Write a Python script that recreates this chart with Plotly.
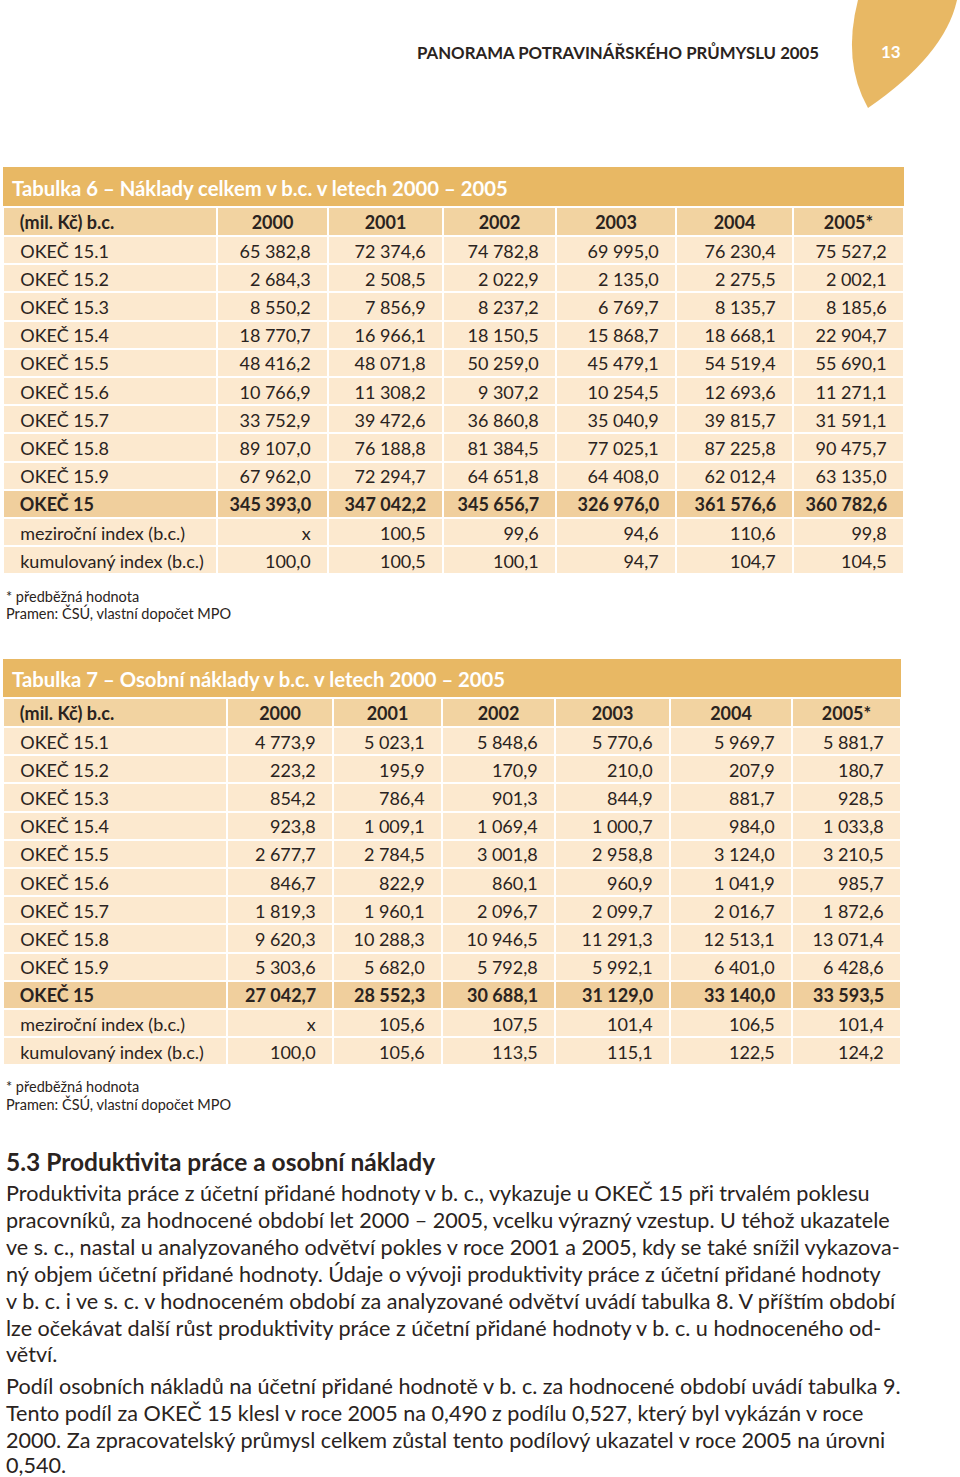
import plotly.graph_objects as go

W, H = 960, 1477

# ---------------- data ----------------
row_labels = ["OKEČ 15.1", "OKEČ 15.2", "OKEČ 15.3", "OKEČ 15.4", "OKEČ 15.5",
              "OKEČ 15.6", "OKEČ 15.7", "OKEČ 15.8", "OKEČ 15.9", "OKEČ 15",
              "meziroční index (b.c.)", "kumulovaný index (b.c.)"]
year_labels = ["2000", "2001", "2002", "2003", "2004", "2005*"]

t6_2000 = [65382.8, 2684.3, 8550.2, 18770.7, 48416.2, 10766.9, 33752.9, 89107.0, 67962.0, 345393.0, None, 100.0]
t6_2001 = [72374.6, 2508.5, 7856.9, 16966.1, 48071.8, 11308.2, 39472.6, 76188.8, 72294.7, 347042.2, 100.5, 100.5]
t6_2002 = [74782.8, 2022.9, 8237.2, 18150.5, 50259.0, 9307.2, 36860.8, 81384.5, 64651.8, 345656.7, 99.6, 100.1]
t6_2003 = [69995.0, 2135.0, 6769.7, 15868.7, 45479.1, 10254.5, 35040.9, 77025.1, 64408.0, 326976.0, 94.6, 94.7]
t6_2004 = [76230.4, 2275.5, 8135.7, 18668.1, 54519.4, 12693.6, 39815.7, 87225.8, 62012.4, 361576.6, 110.6, 104.7]
t6_2005 = [75527.2, 2002.1, 8185.6, 22904.7, 55690.1, 11271.1, 31591.1, 90475.7, 63135.0, 360782.6, 99.8, 104.5]

t7_2000 = [4773.9, 223.2, 854.2, 923.8, 2677.7, 846.7, 1819.3, 9620.3, 5303.6, 27042.7, None, 100.0]
t7_2001 = [5023.1, 195.9, 786.4, 1009.1, 2784.5, 822.9, 1960.1, 10288.3, 5682.0, 28552.3, 105.6, 105.6]
t7_2002 = [5848.6, 170.9, 901.3, 1069.4, 3001.8, 860.1, 2096.7, 10946.5, 5792.8, 30688.1, 107.5, 113.5]
t7_2003 = [5770.6, 210.0, 844.9, 1000.7, 2958.8, 960.9, 2099.7, 11291.3, 5992.1, 31129.0, 101.4, 115.1]
t7_2004 = [5969.7, 207.9, 881.7, 984.0, 3124.0, 1041.9, 2016.7, 12513.1, 6401.0, 33140.0, 106.5, 122.5]
t7_2005 = [5881.7, 180.7, 928.5, 1033.8, 3210.5, 985.7, 1872.6, 13071.4, 6428.6, 33593.5, 101.4, 124.2]

t6_title = "Tabulka 6 – Náklady celkem v b.c. v letech 2000 – 2005"
t7_title = "Tabulka 7 – Osobní náklady v b.c. v letech 2000 – 2005"
unit_label = "(mil. Kč) b.c."
footnote_1 = "* předběžná hodnota"
footnote_2 = "Pramen: ČSÚ, vlastní dopočet MPO"
running_head = "PANORAMA POTRAVINÁŘSKÉHO PRŮMYSLU 2005"
page_number = "13"
section_heading = "5.3 Produktivita práce a osobní náklady"
body_lines = [
    "Produktivita práce z účetní přidané hodnoty v b. c., vykazuje u OKEČ 15 při trvalém poklesu",
    "pracovníků, za hodnocené období let 2000 – 2005, vcelku výrazný vzestup. U téhož ukazatele",
    "ve s. c., nastal u analyzovaného odvětví pokles v roce 2001 a 2005, kdy se také snížil vykazova-",
    "ný objem účetní přidané hodnoty. Údaje o vývoji produktivity práce z účetní přidané hodnoty",
    "v b. c. i ve s. c. v hodnoceném období za analyzované odvětví uvádí tabulka 8. V příštím období",
    "lze očekávat další růst produktivity práce z účetní přidané hodnoty v b. c. u hodnoceného od-",
    "větví.",
    "Podíl osobních nákladů na účetní přidané hodnotě v b. c. za hodnocené období uvádí tabulka 9.",
    "Tento podíl za OKEČ 15 klesl v roce 2005 na 0,490 z podílu 0,527, který byl vykázán v roce",
    "2000. Za zpracovatelský průmysl celkem zůstal tento podílový ukazatel v roce 2005 na úrovni",
    "0,540.",
]

# ---------------- style ----------------
FONT = "Lato"
TXT = "#2a2320"
GOLD = "#e8b864"
HEAD = "#f2d3a1"
TOTAL = "#f0cf9d"
ROW = "#fce9cf"
TOTAL_IDX = 9
NB = "\u00a0"
HEAD_H = 29
ROW_H = 28.2


def fmt(v):
    if v is None:
        return "x"
    s = f"{v:,.1f}"
    return s.replace(",", NB).replace(".", ",")


def lab(s):
    return NB * 2 + s.replace(" ", NB)


def build_tables(cols, colwidths, x0, x1, ytop):
    label_cells = [lab(s) for s in row_labels]
    value_cols = [[fmt(v) + NB * 2 for v in col] for col in cols]
    line = dict(color="white", width=2)
    font_reg = dict(family=FONT, size=18, color=TXT)
    font_bold = dict(family=FONT, size=18, color=TXT, weight=700)
    xd = [x0 / W, x1 / W]

    def dom(top, bot):
        return dict(x=xd, y=[max(0, 1 - bot / H), 1 - top / H])

    # part A: column header + OKEČ rows
    top_a = ytop
    bot_a = top_a + HEAD_H + TOTAL_IDX * ROW_H
    ta = go.Table(
        domain=dom(top_a, bot_a + 2),
        columnwidth=colwidths,
        header=dict(values=[lab(unit_label)] + year_labels, fill_color=HEAD, line=line,
                    align=["left"] + ["center"] * 6, font=font_bold, height=HEAD_H),
        cells=dict(values=[label_cells[:TOTAL_IDX]] + [c[:TOTAL_IDX] for c in value_cols],
                   fill_color=ROW, line=line, align=["left"] + ["right"] * 6,
                   font=font_reg, height=ROW_H),
    )
    # part B: total row (bold) + index rows
    top_b = bot_a
    bot_b = top_b + ROW_H * (len(row_labels) - TOTAL_IDX)
    tb = go.Table(
        domain=dom(top_b, bot_b + 2),
        columnwidth=colwidths,
        header=dict(values=[label_cells[TOTAL_IDX]] + [c[TOTAL_IDX] for c in value_cols],
                    fill_color=TOTAL, line=line, align=["left"] + ["right"] * 6,
                    font=font_bold, height=ROW_H),
        cells=dict(values=[label_cells[TOTAL_IDX + 1:]] + [c[TOTAL_IDX + 1:] for c in value_cols],
                   fill_color=ROW, line=line, align=["left"] + ["right"] * 6,
                   font=font_reg, height=ROW_H),
    )
    return [ta, tb]


fig = go.Figure()
for tr in build_tables([t6_2000, t6_2001, t6_2002, t6_2003, t6_2004, t6_2005],
                       [214, 111, 115, 113, 120, 117, 111], 3, 904, 207):
    fig.add_trace(tr)
for tr in build_tables([t7_2000, t7_2001, t7_2002, t7_2003, t7_2004, t7_2005],
                       [224, 106, 109, 113, 115, 122, 109], 3, 901, 698):
    fig.add_trace(tr)

shapes = [
    dict(type="rect", x0=3, x1=904, y0=167, y1=207, fillcolor=GOLD, line=dict(width=0), layer="below"),
    dict(type="rect", x0=3, x1=901, y0=659, y1=698, fillcolor=GOLD, line=dict(width=0), layer="below"),
    dict(type="path", path="M 858,0 Q 842,62 868,108 Q 945,55 957,0 Z",
         fillcolor=GOLD, line=dict(width=0), layer="below"),
]

ann = []


def text(x, y, s, size, bold=False, color=TXT, anchor="left"):
    ann.append(dict(x=x, y=y, xref="x", yref="y", text=f"<b>{s}</b>" if bold else s,
                    showarrow=False, xanchor=anchor, yanchor="middle",
                    font=dict(family=FONT, size=size, color=color)))


text(415, 52, running_head, 16.8, bold=True)
text(891, 51, page_number, 17, bold=True, color="white", anchor="center")
text(10, 188, t6_title, 20.3, bold=True, color="white")
text(10, 679, t7_title, 20.3, bold=True, color="white")
text(4, 596, footnote_1, 14.5)
text(4, 613, footnote_2, 14.5)
text(4, 1086, footnote_1, 14.5)
text(4, 1104, footnote_2, 14.5)
text(4, 1161, section_heading, 24.5, bold=True)
body_y = [1193, 1220, 1247, 1274, 1301, 1328, 1354, 1386, 1413, 1440, 1465]
for yy, line in zip(body_y, body_lines):
    text(4, yy, line, 21.6)

fig.update_layout(
    width=W, height=H,
    margin=dict(l=0, r=0, t=0, b=0),
    paper_bgcolor="white", plot_bgcolor="white",
    xaxis=dict(range=[0, W], visible=False, fixedrange=True),
    yaxis=dict(range=[H, 0], visible=False, fixedrange=True),
    shapes=shapes, annotations=ann, showlegend=False,
)
fig.write_html("out.html", config={"displayModeBar": False},
               post_script="document.body.style.margin='0';")
